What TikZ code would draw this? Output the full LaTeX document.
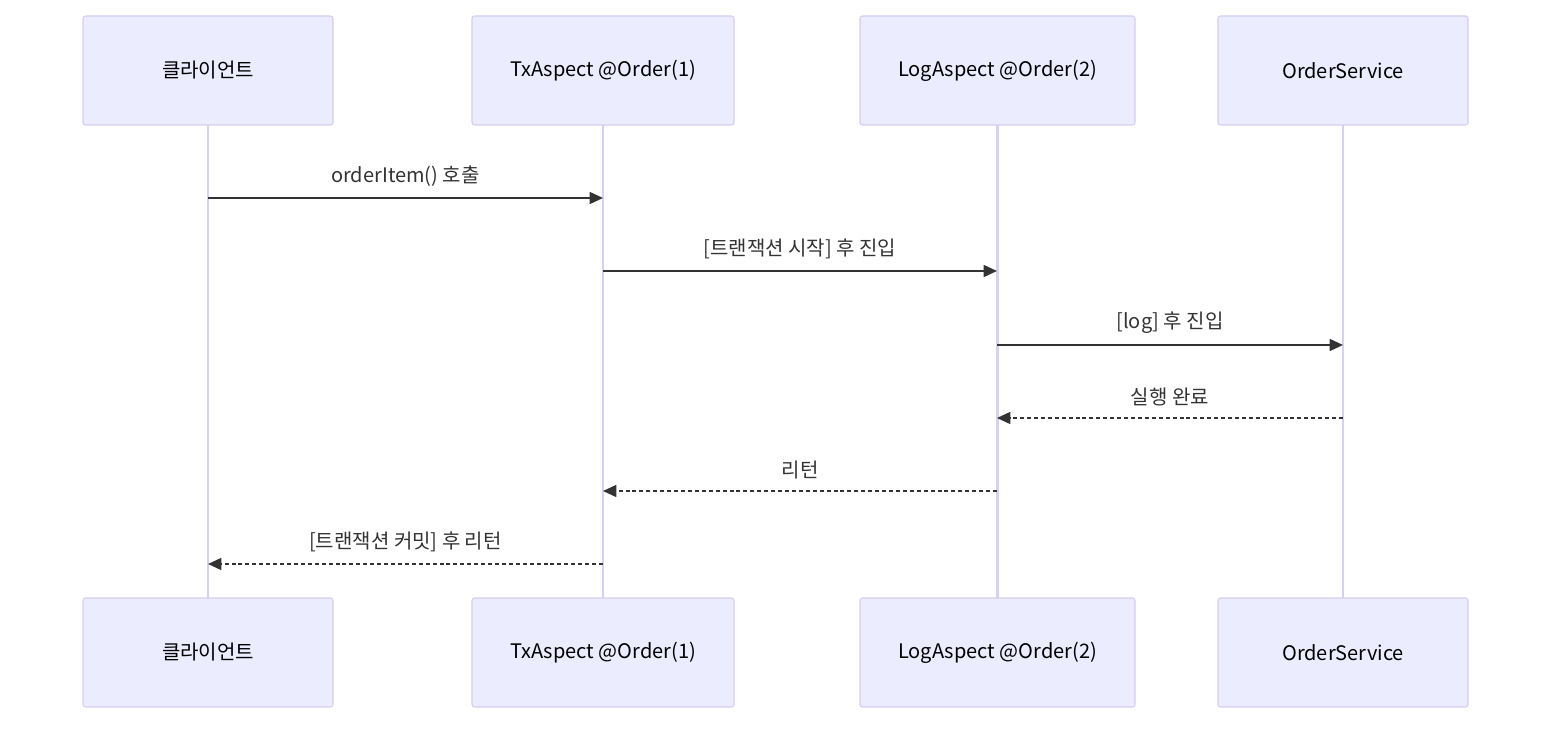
\documentclass[tikz,border=0pt]{standalone}
\usepackage{fontspec}
\setmainfont{Noto Sans CJK KR}
\usetikzlibrary{arrows.meta}
\definecolor{boxfill}{HTML}{ECECFF}
\definecolor{boxdraw}{HTML}{D6CCF2}
\definecolor{life}{HTML}{D9CFF5}
\definecolor{ink}{HTML}{333333}
\begin{document}
\begin{tikzpicture}[x=0.75pt,y=-0.75pt,
  actor/.style={draw=boxdraw,fill=boxfill,rounded corners=2pt,line width=0.8pt,font=\fontsize{15}{18}\selectfont,text=black},
  lifeline/.style={draw=life,line width=2.2pt},
  msg/.style={draw=ink,line width=1.1pt,-{Triangle[length=10pt,width=9pt]}},
  ret/.style={msg,dash pattern=on 3pt off 2.2pt},
  lbl/.style={font=\fontsize{15}{18}\selectfont,text=ink}]
\useasboundingbox (0,0) rectangle (1568,734);
\foreach \n/\xa/\xb/\t in {a/83/333/클라이언트,b/472/734/TxAspect @Order(1),c/860/1135/LogAspect @Order(2),d/1218/1468/OrderService}{
  \coordinate (\n mid) at ({(\xa+\xb)/2},0);
  \draw[lifeline] ({(\xa+\xb)/2},125) -- ({(\xa+\xb)/2},598);
  \node[actor,minimum width={(\xb-\xa)*0.75pt},minimum height=81.75pt] (\n top) at ({(\xa+\xb)/2},70.5) {\t};
  \node[actor,minimum width={(\xb-\xa)*0.75pt},minimum height=81.75pt] (\n bot) at ({(\xa+\xb)/2},652.5) {\t};
}
\coordinate (a1) at (208,198); \coordinate (b1) at (603,198);
\coordinate (b2) at (603,271); \coordinate (c2) at (997,271);
\coordinate (c3) at (997,345); \coordinate (d3) at (1343,345);
\coordinate (d4) at (1343,418); \coordinate (c4) at (997,418);
\coordinate (c5) at (997,491); \coordinate (b5) at (603,491);
\coordinate (b6) at (603,564); \coordinate (a6) at (208,564);
\draw[msg] (a1) -- node[lbl,above=5pt] {orderItem() 호출} (b1);
\draw[msg] (b2) -- node[lbl,above=5pt] {[트랜잭션 시작] 후 진입} (c2);
\draw[msg] (c3) -- node[lbl,above=5pt] {[log] 후 진입} (d3);
\draw[ret] (d4) -- node[lbl,above=5pt] {실행 완료} (c4);
\draw[ret] (c5) -- node[lbl,above=5pt] {리턴} (b5);
\draw[ret] (b6) -- node[lbl,above=5pt] {[트랜잭션 커밋] 후 리턴} (a6);
\end{tikzpicture}
\end{document}
